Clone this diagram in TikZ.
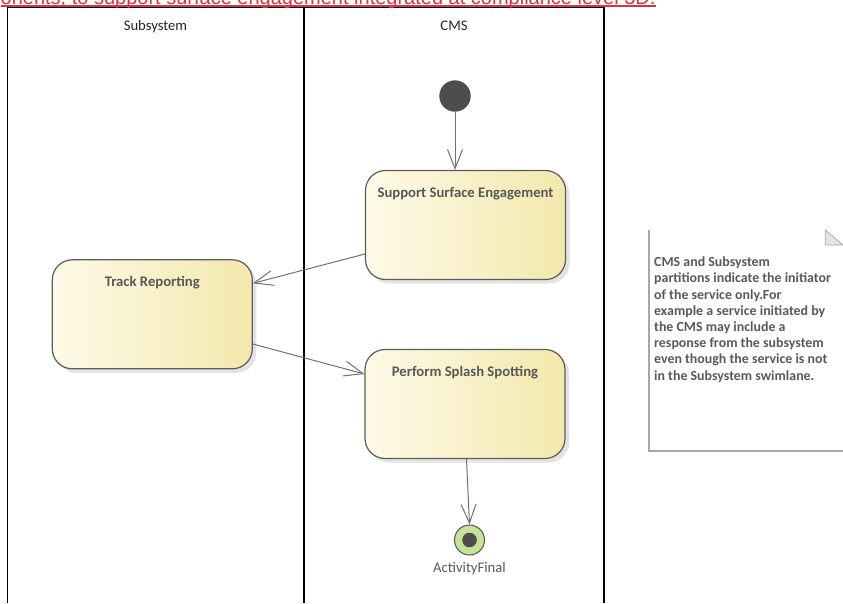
\documentclass[tikz,border=0pt]{standalone}
\usepackage{fontspec}
\setmainfont{Carlito}
\newfontfamily\arialfont{Liberation Sans}
\usepackage{xcolor}
\usepackage{tikz}
\usetikzlibrary{arrows.meta,positioning,shadows}
\definecolor{cinzaescuro}{RGB}{77,77,77}
\definecolor{cinzaborda}{RGB}{92,92,92}
\definecolor{cinzaseta}{RGB}{112,112,112}
\definecolor{cinzatexto}{RGB}{89,89,89}
\definecolor{cinzanota}{RGB}{168,168,168}
\definecolor{cinzadobra}{RGB}{228,228,228}
\definecolor{amareloclaro}{RGB}{253,250,232}
\definecolor{amareloescuro}{RGB}{243,232,172}
\definecolor{verdeclaro}{RGB}{197,226,152}
\definecolor{vermelho}{RGB}{217,51,63}
\tikzset{
  acao/.style={rectangle,rounded corners=20pt,draw=cinzaborda,line width=1.2pt,
    left color=amareloclaro,right color=amareloescuro,
    minimum width=200pt,minimum height=109pt,inner sep=0pt,
    drop shadow={shadow xshift=4pt,shadow yshift=-4pt,fill=black!22}},
  rotulo/.style={inner sep=0pt,text=cinzatexto,
    font=\fontsize{14.67}{17}\selectfont\bfseries},
  legenda/.style={inner sep=0pt,text=cinzatexto,font=\fontsize{14.67}{17}\selectfont},
  cabecalho/.style={anchor=base,inner sep=0pt,text=black!85,
    font=\fontsize{14.67}{17}\selectfont},
  inicial/.style={circle,fill=cinzaescuro,minimum size=31.4pt,inner sep=0pt},
  final/.style={circle,draw=cinzaborda,line width=1.1pt,fill=verdeclaro,
    minimum size=30pt,inner sep=0pt},
  ponto/.style={circle,fill=cinzaescuro,minimum size=14.6pt,inner sep=0pt},
  seta/.style={-{Straight Barb[length=19pt,width=15pt]},draw=cinzaseta,line width=1pt},
  raia/.style={draw=black,line width=1.4pt},
  nota/.style={anchor=base west,inner sep=0pt,align=left,text=cinzatexto,
    font=\fontsize{13.9}{16.2}\selectfont\bfseries},
  aviso/.style={anchor=base west,inner sep=0pt,text=vermelho,
    font=\arialfont\fontsize{20}{24}\selectfont}
}
\begin{document}
\begin{tikzpicture}[x=1pt,y=-1pt]
\clip (0,0) rectangle (843,603);
% raias
\draw[raia] (7.3,603) -- (7.3,7.3) -- (604,7.3) -- (604,603);
\draw[raia] (304,7.3) -- (304,603);
\node[cabecalho] (rsub) at (155.5,30) {Subsystem};
\node[cabecalho] (rcms) at (454,30) {CMS};
% aviso cortado no topo
\node[aviso] (aviso) at (0.5,4.7) {onents, to support surface engagement integrated at compliance level 3D.};
\draw[vermelho,line width=1.2pt] ([yshift=-1.3pt]aviso.base west) -- ([yshift=-1.3pt]aviso.base east);
% atividades
\node[inicial] (ini) at (455,96) {};
\node[acao,label={[rotulo,anchor=base,yshift=-27.5pt]north:Support Surface Engagement}] (sse) at (465.5,225) {};
\node[acao,label={[rotulo,anchor=base,yshift=-27.5pt]north:Track Reporting}] (tr) at (152.3,314.3) {};
\node[acao,label={[rotulo,anchor=base,yshift=-27.5pt]north:Perform Splash Spotting}] (pss) at (465,404) {};
\node[final,label={[legenda,anchor=base,yshift=-16.7pt]south:ActivityFinal}] (fim) at (469.5,540) {};
\node[ponto] (fimponto) at (fim) {};
% fluxos
\draw[seta] (ini.south) -- (ini.south |- sse.north);
\draw[seta] ([yshift=-29pt]sse.west) -- ([yshift=31pt]tr.east);
\draw[seta] ([yshift=-29.7pt]tr.east) -- ([yshift=30pt]pss.west);
\draw[seta] ([xshift=1.5pt]pss.south) -- (fim.north);
% nota
\draw[draw=cinzanota,line width=1.4pt] (649,230) -- (649,451) -- (845,451);
\filldraw[draw=cinzanota,fill=cinzadobra,line width=0.8pt] (825.3,230) -- (843,245) -- (825.3,245) -- cycle;
\node[nota] (nota) at (654,380) {CMS and Subsystem\\partitions indicate the initiator\\of the service only.For\\example a service initiated by\\the CMS may include a\\response from the subsystem\\even though the service is not\\in the Subsystem swimlane.};
\end{tikzpicture}
\end{document}
